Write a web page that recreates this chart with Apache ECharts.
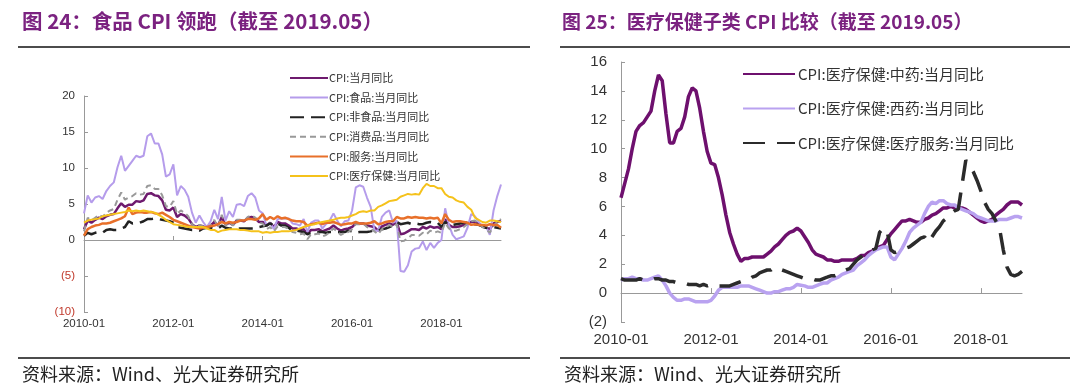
<!DOCTYPE html>
<html><head><meta charset="utf-8">
<script src="https://cdn.jsdelivr.net/npm/echarts@6/dist/echarts.min.js"></script>
<style>html,body{margin:0;padding:0;background:#fff}#c{width:1080px;height:392px}</style>
</head><body><div id="c"></div>
<script>
// ---- categories ----
function months(y0, m0, n){var a=[];for(var i=0;i<n;i++){var t=y0*12+(m0-1)+i;var y=Math.floor(t/12),m=t%12+1;a.push(y+'-'+(m<10?'0':'')+m);}return a;}
var monthsLeft = months(2010,1,113);   // 2010-01 .. 2019-05
var monthsRight = months(2010,1,108);  // 2010-01 .. 2018-12
var leftTicks = [-10,-5,0,5,10,15,20];
var rightTicks = [-2,0,2,4,6,8,10,12,14,16];

// ---- left chart series ----
var namesLeft = ['CPI:当月同比','CPI:食品:当月同比','CPI:非食品:当月同比','CPI:消费品:当月同比','CPI:服务:当月同比','CPI:医疗保健:当月同比'];
var cpiAll = [1.5,2.7,2.4,2.8,3.1,2.9,3.3,3.5,3.6,4.4,5.1,4.6,
4.9,4.9,5.4,5.3,5.5,6.4,6.5,6.2,6.1,5.5,4.2,4.1,
4.5,3.2,3.6,3.4,3.0,2.2,1.8,2.0,1.9,1.7,2.0,2.5,
2.0,3.2,2.1,2.4,2.1,2.7,2.7,2.6,3.1,3.2,3.0,2.5,
2.5,2.0,2.4,1.8,2.5,2.3,2.3,2.0,1.6,1.6,1.4,1.5,
0.8,1.4,1.4,1.5,1.2,1.4,1.6,2.0,1.6,1.3,1.5,1.6,
1.8,2.3,2.3,2.3,2.0,1.9,1.8,1.3,1.9,2.1,2.3,2.1,
2.5,0.8,0.9,1.2,1.5,1.5,1.4,1.8,1.6,1.9,1.7,1.8,
1.5,2.9,2.1,1.8,1.8,1.9,2.1,2.3,2.5,2.5,2.2,1.9,
1.7,1.5,2.3,2.5,2.7];
var cpiFood = [3.7,6.2,5.2,5.9,6.1,5.7,6.8,7.5,8.0,10.1,11.7,9.6,
10.3,11.0,11.7,11.5,11.7,14.4,14.8,13.4,13.4,11.9,8.8,9.1,
10.5,6.2,7.5,7.0,6.0,3.8,2.4,3.4,2.5,1.8,2.6,4.2,
2.9,6.0,2.7,4.0,3.2,4.9,5.0,4.7,6.1,6.5,5.9,4.1,
3.7,2.0,2.4,1.5,2.9,3.0,3.0,3.0,2.3,2.2,2.0,2.9,
1.1,2.4,2.7,2.7,1.6,2.2,2.7,3.7,2.7,1.9,2.6,2.7,
4.1,7.3,7.6,7.4,5.9,4.6,1.3,1.3,3.2,3.8,4.1,2.4,
2.7,-4.3,-4.4,-3.5,-1.6,-1.2,-1.1,-0.2,-1.4,-0.4,-1.1,-0.4,
0.0,4.4,2.1,0.7,0.1,0.3,0.5,1.7,3.6,3.3,2.5,1.9,
1.9,0.7,4.1,6.1,7.7];
var cpiNonFood = [0.6,1.0,0.8,1.0,1.1,1.0,1.4,1.5,1.4,1.4,1.6,1.8,
2.6,2.3,2.4,2.4,2.6,2.9,2.9,3.0,2.9,2.8,2.7,2.6,
2.4,1.8,1.7,1.6,1.5,1.4,1.4,1.3,1.6,1.7,1.7,1.6,
1.6,2.0,1.7,1.6,1.6,1.6,1.6,1.6,1.6,1.6,1.6,1.8,
1.9,2.0,2.3,2.0,2.3,2.0,2.0,1.7,1.3,1.3,1.2,1.1,
0.8,1.0,0.9,1.1,1.1,1.0,1.1,1.1,1.1,1.1,1.1,1.3,
1.2,1.0,1.1,1.1,1.1,1.2,1.4,1.3,1.5,1.6,1.8,2.0,
2.5,2.2,2.3,2.4,2.2,2.3,2.2,2.2,2.4,2.5,2.4,2.4,
1.8,2.5,2.1,2.1,2.2,2.3,2.4,2.4,2.2,2.2,2.1,1.9,
1.7,1.7,1.8,1.7,1.6];
var cpiGoods = [1.2,3.1,2.7,3.1,3.5,3.2,3.8,4.1,4.3,5.6,6.6,5.6,
5.9,6.1,6.5,6.3,6.4,7.5,7.6,7.1,7.1,6.2,4.7,4.6,
5.4,3.6,4.1,3.8,3.3,2.2,1.7,2.1,1.9,1.6,2.1,2.8,
1.8,3.5,2.0,2.5,2.0,2.8,2.8,2.6,3.2,3.4,3.1,2.4,
2.3,1.5,1.8,1.2,1.9,1.8,1.8,1.5,1.1,1.0,0.8,0.9,
0.1,0.8,0.8,0.9,0.5,0.7,1.1,1.6,1.2,0.7,1.0,1.1,
1.5,2.2,2.2,2.3,1.8,1.6,1.2,0.8,1.5,1.7,2.1,1.8,
2.2,-0.2,-0.1,0.2,0.7,0.7,0.6,1.0,0.8,1.3,1.0,1.2,
1.0,2.4,1.6,1.3,1.3,1.5,1.8,2.2,2.6,2.7,2.3,1.8,
1.5,1.0,2.0,2.5,2.9];
var cpiServices = [0.6,1.5,1.8,2.0,2.1,2.3,2.3,2.4,2.6,2.8,3.0,3.3,
4.5,3.6,3.8,3.9,3.8,3.8,3.9,3.7,3.6,3.8,3.5,3.2,
2.8,2.6,2.4,2.2,2.0,1.8,1.7,1.6,1.7,1.8,1.9,2.0,
2.2,2.5,2.3,2.5,2.4,2.5,2.7,2.7,2.9,2.9,2.8,3.0,
3.6,2.8,3.2,2.9,3.3,3.0,3.1,2.9,2.7,2.6,2.6,2.5,
2.0,2.2,2.3,2.4,2.2,2.4,2.4,2.5,2.3,2.1,2.2,2.3,
2.3,2.5,2.3,2.3,2.3,2.4,2.6,2.2,2.3,2.5,2.6,2.6,
3.2,3.0,3.0,3.2,3.1,3.2,3.1,3.1,3.0,3.1,3.0,3.1,
2.3,3.6,2.8,2.5,2.6,2.6,2.5,2.4,2.1,2.2,2.1,2.1,
2.0,2.2,2.1,2.1,1.7];
var cpiHealth = [2.4,2.7,2.8,2.9,3.0,3.3,3.4,3.5,3.6,3.7,3.8,3.9,
4.1,4.0,4.1,4.0,4.1,4.0,3.9,3.8,3.5,3.2,2.8,2.5,
2.2,2.1,2.0,1.9,1.8,1.8,1.8,1.8,1.8,1.6,1.4,1.4,
1.1,1.3,1.4,1.5,1.5,1.5,1.4,1.4,1.3,1.2,1.2,1.2,
1.0,1.1,1.0,1.1,1.1,1.2,1.2,1.2,1.3,1.4,1.6,1.8,
2.0,2.1,2.2,2.4,2.5,2.6,2.7,2.8,3.0,3.1,3.1,3.2,
3.4,3.6,3.9,4.0,3.9,4.1,4.1,4.6,4.8,5.1,5.4,5.5,
5.6,6.0,6.2,6.4,6.3,6.4,6.3,7.2,7.8,7.5,7.5,7.2,
7.2,6.4,6.0,5.9,5.5,5.3,5.2,4.6,4.2,3.1,2.8,2.5,
2.4,2.7,2.7,2.6,2.5];

// ---- right chart series ----
var namesRight = ['CPI:医疗保健:中药:当月同比','CPI:医疗保健:西药:当月同比','CPI:医疗保健:医疗服务:当月同比'];
var tcm = [6.6,7.6,8.6,10.0,11.2,11.6,11.8,12.2,12.6,14.0,15.1,14.7,
12.4,10.4,10.4,11.2,11.4,12.2,13.6,14.2,14.0,12.8,11.2,9.8,
9.0,8.9,8.0,6.8,5.4,4.2,3.4,2.7,2.2,2.4,2.4,2.5,
2.5,2.5,2.5,2.7,2.9,3.2,3.4,3.7,4.0,4.2,4.3,4.5,
4.3,3.9,3.5,3.0,2.7,2.6,2.5,2.3,2.3,2.2,2.2,2.3,
2.3,2.3,2.3,2.4,2.6,2.6,2.8,2.9,3.1,3.2,3.3,3.7,
4.1,4.4,4.7,5.0,5.0,5.1,5.0,4.9,4.9,5.1,5.2,5.4,
5.5,5.7,5.9,5.9,6.0,5.9,5.9,5.9,5.8,5.6,5.4,5.2,
5.0,4.9,5.0,5.1,5.4,5.6,5.8,6.1,6.3,6.3,6.3,6.1];
var westernMed = [0.9,1.0,1.0,1.1,1.0,1.0,0.9,0.9,1.0,1.1,1.2,0.9,
0.5,0.0,-0.3,-0.5,-0.5,-0.4,-0.4,-0.5,-0.6,-0.6,-0.6,-0.6,
-0.5,-0.2,0.2,0.4,0.4,0.4,0.4,0.4,0.5,0.5,0.5,0.4,
0.3,0.2,0.1,0.0,0.0,0.1,0.1,0.2,0.3,0.3,0.4,0.6,
0.55,0.5,0.4,0.4,0.5,0.6,0.7,0.7,0.9,1.0,1.1,1.3,
1.4,1.5,1.6,1.9,2.1,2.3,2.6,2.8,3.0,3.1,3.2,3.2,
2.5,2.3,2.7,3.1,3.6,4.2,4.5,4.7,4.9,5.5,6.0,6.3,
6.2,6.4,6.4,6.2,6.1,6.1,5.9,5.8,5.7,5.6,5.5,5.3,
5.2,5.1,5.0,5.0,5.0,5.1,5.1,5.1,5.2,5.3,5.3,5.2];
var medService = [1.0,0.9,0.9,0.9,0.9,1.0,0.9,0.9,0.9,1.0,1.0,0.9,
0.9,0.8,0.8,0.7,0.7,0.7,0.6,0.6,0.6,0.5,0.6,0.5,
0.6,0.5,0.5,0.5,0.5,0.5,0.6,0.7,0.8,0.9,0.9,1.1,
1.2,1.4,1.5,1.6,1.6,1.8,1.7,1.6,1.5,1.4,1.3,1.2,
1.1,1.0,1.0,1.0,0.9,0.9,1.0,1.1,1.2,1.2,1.3,1.4,
1.6,1.7,2.0,2.3,2.5,2.7,2.9,3.0,3.1,4.2,4.5,4.3,
3.0,2.8,2.9,3.0,3.1,3.2,3.4,3.6,3.8,3.9,3.5,3.9,
4.3,4.6,5.0,5.2,5.5,5.7,5.8,7.5,9.2,8.8,8.4,7.8,
7.1,6.3,5.8,5.5,5.0,4.5,3.0,1.8,1.3,1.2,1.3,1.5];

var FONT = '"Liberation Sans", Arial, "Noto Sans CJK SC", sans-serif';
var CJK = '"Noto Sans CJK SC", sans-serif';
var PURPLE_T = '#7B2280';
function paren(v){return v<0?'('+(-v)+')':String(v);}
var hiddenSymbol = {color:'rgba(0,0,0,0)', borderColor:'rgba(0,0,0,0)', borderWidth:0, opacity:0};

var chart = echarts.init(document.getElementById('c'), null, {renderer:'canvas'});
var option = {
  animation:false,
  backgroundColor:'#fff',
  grid:[
    {left:84, top:96, width:417, height:216},
    {left:621, top:62, width:401, height:260}
  ],
  xAxis:[
    {gridIndex:0, type:'category', data:monthsLeft, boundaryGap:false, position:'bottom',
     axisLine:{onZero:true, lineStyle:{color:'#999', width:1}},
     axisTick:{show:true, inside:true, length:4, interval:23, lineStyle:{color:'#999'}},
     axisLabel:{show:false}, splitLine:{show:false}},
    {gridIndex:0, type:'category', data:monthsLeft, boundaryGap:false, position:'bottom',
     axisLine:{show:false, onZero:false}, axisTick:{show:false},
     axisLabel:{show:true, interval:23, margin:6, fontSize:11.5, color:'#333', fontFamily:FONT}},
    {gridIndex:1, type:'category', data:monthsRight, boundaryGap:false, position:'bottom',
     axisLine:{onZero:true, lineStyle:{color:'#999', width:1}},
     axisTick:{show:true, inside:true, length:5, interval:23, lineStyle:{color:'#999'}},
     axisLabel:{show:false}, splitLine:{show:false}},
    {gridIndex:1, type:'category', data:monthsRight, boundaryGap:false, position:'bottom',
     axisLine:{show:false, onZero:false}, axisTick:{show:false},
     axisLabel:{show:true, interval:23, margin:10, fontSize:15, color:'#333', fontFamily:FONT}}
  ],
  yAxis:[
    {gridIndex:0, type:'value', min:leftTicks[0], max:leftTicks[leftTicks.length-1], interval:5,
     axisLine:{show:true, lineStyle:{color:'#999'}},
     axisTick:{show:true, inside:true, length:4, lineStyle:{color:'#999'}},
     splitLine:{show:false},
     axisLabel:{fontSize:11.5, margin:9, fontFamily:FONT, formatter:paren,
       color:function(v){return Number(v)<0?'#C0392B':'#333';}}},
    {gridIndex:1, type:'value', min:rightTicks[0], max:rightTicks[rightTicks.length-1], interval:2,
     axisLine:{show:true, lineStyle:{color:'#999'}},
     axisTick:{show:true, inside:true, length:4, lineStyle:{color:'#999'}},
     splitLine:{show:false},
     axisLabel:{fontSize:15, margin:14, fontFamily:FONT, color:'#333', formatter:paren}}
  ],
  legend:[
    {orient:'vertical', left:284, top:67, itemWidth:38, itemHeight:12, itemGap:7.6,
     data:namesLeft, itemStyle:hiddenSymbol,
     textStyle:{fontSize:11, lineHeight:12, color:'#333', fontFamily:CJK, padding:[0,0,0,-4]},
     selectedMode:false},
    {orient:'vertical', left:737, top:60, itemWidth:52, itemHeight:18, itemGap:16.5,
     data:namesRight, itemStyle:hiddenSymbol,
     textStyle:{fontSize:15, lineHeight:18, color:'#333', fontFamily:CJK, padding:[0,0,0,-2]},
     selectedMode:false}
  ],
  series:[
    {name:namesLeft[0], type:'line', xAxisIndex:0, yAxisIndex:0, data:cpiAll, symbol:'none', lineStyle:{color:'#6E1A6E', width:2.5}, itemStyle:{color:'#6E1A6E'}},
    {name:namesLeft[1], type:'line', xAxisIndex:0, yAxisIndex:0, data:cpiFood, symbol:'none', lineStyle:{color:'#B59CEB', width:2}, itemStyle:{color:'#B59CEB'}},
    {name:namesLeft[2], type:'line', xAxisIndex:0, yAxisIndex:0, data:cpiNonFood, symbol:'none', lineStyle:{color:'#222', width:2.5, type:[14,7]}, itemStyle:{color:'#222'}},
    {name:namesLeft[3], type:'line', xAxisIndex:0, yAxisIndex:0, data:cpiGoods, symbol:'none', lineStyle:{color:'#999', width:2, type:[6,4]}, itemStyle:{color:'#999'}},
    {name:namesLeft[4], type:'line', xAxisIndex:0, yAxisIndex:0, data:cpiServices, symbol:'none', lineStyle:{color:'#E8702A', width:2.5}, itemStyle:{color:'#E8702A'}},
    {name:namesLeft[5], type:'line', xAxisIndex:0, yAxisIndex:0, data:cpiHealth, symbol:'none', lineStyle:{color:'#F5C21B', width:2}, itemStyle:{color:'#F5C21B'}},
    {name:namesRight[0], type:'line', xAxisIndex:2, yAxisIndex:1, data:tcm, symbol:'none', lineStyle:{color:'#6E106E', width:3.5}, itemStyle:{color:'#6E106E'}},
    {name:namesRight[1], type:'line', xAxisIndex:2, yAxisIndex:1, data:westernMed, symbol:'none', lineStyle:{color:'#B9A2F0', width:3.5}, itemStyle:{color:'#B9A2F0'}},
    {name:namesRight[2], type:'line', xAxisIndex:2, yAxisIndex:1, data:medService, symbol:'none', lineStyle:{color:'#2B2B2B', width:3.5, type:[22,12]}, itemStyle:{color:'#2B2B2B'}}
  ],
  graphic:[
    {type:'text', left:22, top:11, style:{text:'图 24：食品 CPI 领跑（截至 2019.05）', fill:PURPLE_T, font:'bold 20.5px "Noto Sans CJK SC", sans-serif'}},
    {type:'text', left:562, top:12, style:{text:'图 25：医疗保健子类 CPI 比较（截至 2019.05）', fill:PURPLE_T, font:'bold 19px "Noto Sans CJK SC", sans-serif'}},
    {type:'line', shape:{x1:18, y1:47, x2:530, y2:47}, style:{stroke:'#111', lineWidth:1.5}},
    {type:'line', shape:{x1:560, y1:47, x2:1070, y2:47}, style:{stroke:'#111', lineWidth:1.5}},
    {type:'line', shape:{x1:18, y1:358, x2:530, y2:358}, style:{stroke:'#111', lineWidth:1.5}},
    {type:'line', shape:{x1:560, y1:358, x2:1070, y2:358}, style:{stroke:'#111', lineWidth:1.5}},
    {type:'text', left:22, top:365, style:{text:'资料来源：Wind、光大证券研究所', fill:'#222', font:'18px "Noto Sans CJK SC", sans-serif'}},
    {type:'text', left:564, top:365, style:{text:'资料来源：Wind、光大证券研究所', fill:'#222', font:'18px "Noto Sans CJK SC", sans-serif'}}
  ]
};
chart.setOption(option);
</script>
</body></html>
